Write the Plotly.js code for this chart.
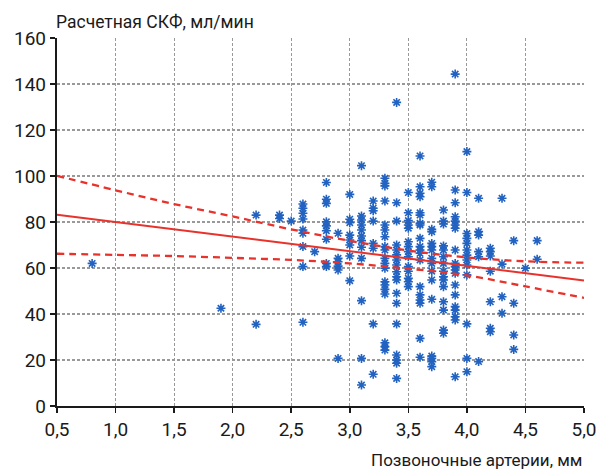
<!DOCTYPE html>
<html>
<head>
<meta charset="utf-8">
<script src="https://cdn.plot.ly/plotly-3.0.1.min.js"></script>
<style>
  html, body { margin: 0; padding: 0; background: #fff; }
  #chart { width: 602px; height: 470px; }
</style>
</head>
<body>
<div id="chart"></div>
<script>
// Vertebral artery diameter (mm), one entry per measured column
const arteryColumns = [0.8, 1.9, 2.2, 2.4, 2.5, 2.6, 2.7, 2.8, 2.9, 3.0, 3.1, 3.2, 3.3,
                       3.4, 3.5, 3.6, 3.7, 3.8, 3.9, 4.0, 4.1, 4.2, 4.3, 4.4, 4.5, 4.6];

// Estimated GFR (ml/min) for patients in each diameter column
const gfrByColumn = [
  [62],
  [42.5],
  [83, 35.5],
  [83, 81.5],
  [80.4],
  [87.8, 86, 83.8, 81.3, 76.5, 75.1, 69.3, 60.6, 36.4],
  [67.1],
  [97.2, 89.9, 88.1, 80.1, 78.3, 76.2, 72.5, 62, 60.6],
  [75.1, 64.2, 62.7, 60.8, 59.1, 20.7],
  [92, 81.2, 79.7, 74.3, 72.2, 70, 65.2, 54.5],
  [104.5, 82.6, 80.9, 78.7, 76.5, 73.9, 71.9, 69, 64.2, 45.8, 20.7, 9.1],
  [89.1, 86, 84.9, 80.4, 70.7, 68.6, 35.7, 13.8],
  [99, 96.8, 95.7, 89.1, 78.7, 76.5, 73.6, 69.3, 67.8, 64.2, 62, 59.9, 54, 52.6, 50.7, 48.7, 27.5, 25.8, 24.3],
  [132, 88.4, 80.4, 70, 67.8, 65.7, 63.5, 61.3, 58.4, 56.2, 54.8, 49, 44.7, 35.7, 22.2, 20, 18.6, 12],
  [92.8, 84, 80.6, 78.7, 77.3, 71.4, 69.3, 67.1, 64.9, 60.6, 58.6, 55.5, 54, 51.9],
  [108.7, 95.3, 92.5, 91, 84, 83, 79.4, 78.7, 72.9, 69.3, 67.8, 66.4, 63.5, 51.9, 48.3, 46.1, 44.7, 29.4, 21.2],
  [97.3, 95.3, 76.8, 75.8, 70.7, 69.3, 67.8, 64.2, 62, 58.6, 54.8, 46.4, 21.7, 20.7, 19.3, 17.1],
  [85.2, 80.4, 79.1, 69.6, 67.8, 64.9, 62, 58.6, 56.2, 54.8, 51.9, 45.3, 41.7, 33, 31.6],
  [144.3, 93.9, 88.4, 82.3, 80.4, 78.7, 77.3, 67.8, 62, 60.6, 59.1, 57.7, 52.6, 48.3, 43.2, 41.7, 38.8, 37.4, 12.7],
  [110.6, 92.8, 75, 72.9, 70.7, 67.8, 65.6, 63.5, 61.3, 57, 35.7, 20.7, 14.9],
  [90.3, 75.8, 74.3, 67.1, 64.9, 19.3],
  [68.6, 67.1, 65.2, 58.6, 45.3, 33.8, 32.3],
  [90.3, 61.7, 47.5, 40.3],
  [71.9, 44.7, 30.9, 24.6],
  [59.9],
  [71.9, 63.8]
];

// Regression line end points
const fitX = [0.5, 5.0];
const fitY = [83.2, 54.6];

// 95% confidence band, sampled along the axis
const bandX = [0.5, 1.0, 1.5, 2.0, 2.5, 3.0, 3.5, 4.0, 4.5, 5.0];
const bandUpper = [100.1, 93.8, 87.8, 82.4, 76.8, 71.8, 67.6, 64.6, 62.9, 62.3];
const bandLower = [66.2, 65.7, 65.2, 64.4, 63.5, 62.0, 59.7, 56.8, 52.0, 47.0];

// Axis ticks with decimal commas
const xTickVals = [0.5, 1.0, 1.5, 2.0, 2.5, 3.0, 3.5, 4.0, 4.5, 5.0];
const xTickText = ['0,5', '1,0', '1,5', '2,0', '2,5', '3,0', '3,5', '4,0', '4,5', '5,0'];
const yTickVals = [0, 20, 40, 60, 80, 100, 120, 140, 160];

const ptX = [], ptY = [];
arteryColumns.forEach((x, i) => {
  gfrByColumn[i].forEach(v => { ptX.push(x); ptY.push(v); });
});

const RED = '#e8322b';
const BLUE = '#2262c0';
const FONT = 'Roboto, "Noto Sans", sans-serif';

const traces = [
  {
    x: ptX, y: ptY, type: 'scatter', mode: 'markers',
    marker: { symbol: 'asterisk-open', size: 7.5, color: BLUE, line: { color: BLUE, width: 1.6 } },
    hoverinfo: 'x+y'
  },
  {
    x: bandX, y: bandUpper, type: 'scatter', mode: 'lines',
    line: { color: RED, width: 2.3, dash: '7px,5px', shape: 'spline' }
  },
  {
    x: bandX, y: bandLower, type: 'scatter', mode: 'lines',
    line: { color: RED, width: 2.3, dash: '7px,5px', shape: 'spline' }
  },
  {
    x: fitX, y: fitY, type: 'scatter', mode: 'lines',
    line: { color: RED, width: 2 }
  }
];

const axisCommon = {
  showline: true, linecolor: '#1a1a1a', linewidth: 2.2,
  ticks: 'outside', ticklen: 5, tickwidth: 1.6, tickcolor: '#1a1a1a',
  showgrid: true, gridcolor: '#999999', gridwidth: 1.1, griddash: '3px,2px',
  zeroline: false, tickfont: { size: 19 }, fixedrange: true
};

const layout = {
  width: 602, height: 470,
  margin: { l: 57, r: 18, t: 38, b: 64 },
  paper_bgcolor: '#fff', plot_bgcolor: '#fff',
  showlegend: false,
  font: { family: FONT, color: '#1a1a1a', size: 18 },
  xaxis: Object.assign({ range: [0.5, 5.0], tickvals: xTickVals, ticktext: xTickText }, axisCommon),
  yaxis: Object.assign({ range: [0, 160], tickvals: yTickVals }, axisCommon),
  annotations: [
    {
      text: 'Расчетная СКФ, мл/мин', xref: 'paper', yref: 'paper',
      x: -0.006, y: 1.012, xanchor: 'left', yanchor: 'bottom', showarrow: false,
      font: { size: 17.5 }
    },
    {
      text: 'Позвоночные артерии, мм', xref: 'paper', yref: 'paper',
      x: 1.0, y: -0.147, xanchor: 'right', yanchor: 'middle', showarrow: false,
      font: { size: 17 }
    }
  ]
};

Plotly.newPlot('chart', traces, layout, { displayModeBar: false, staticPlot: true });
</script>
</body>
</html>
